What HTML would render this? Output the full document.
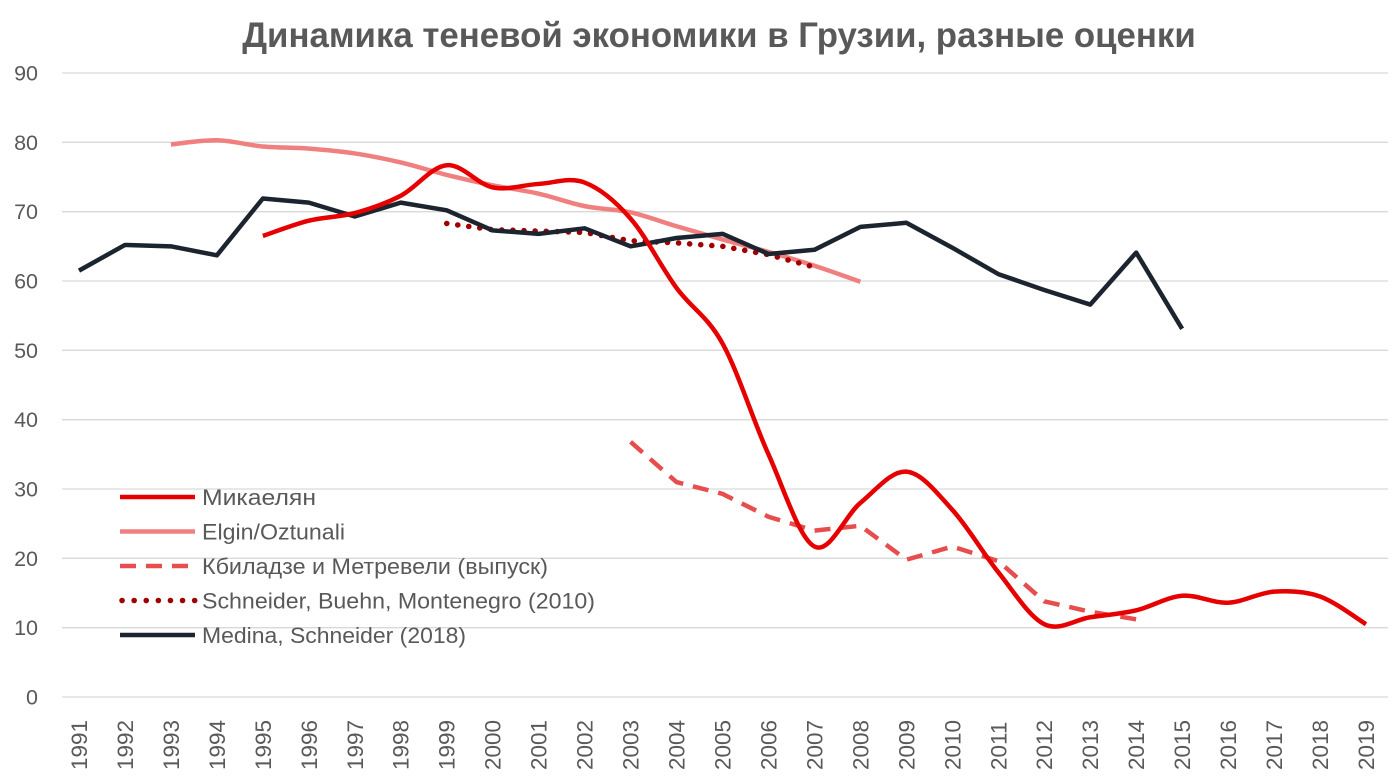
<!DOCTYPE html>
<html><head><meta charset="utf-8"><style>
html,body{margin:0;padding:0;background:#fff;}
svg{display:block;font-family:"Liberation Sans","DejaVu Sans",sans-serif;}
</style></head><body>
<svg id="s" width="1392" height="784" xmlns="http://www.w3.org/2000/svg"></svg>
<script>
const s=document.getElementById('s');
const X=y=>79+(y-1991)*45.964, Y=v=>697-6.9333*v;
let h='';
h+='<text x="719" y="47" text-anchor="middle" font-size="34.8" font-weight="bold" fill="#595959">Динамика теневой экономики в Грузии, разные оценки</text>';
for(let v=0;v<=90;v+=10){h+=`<line x1="62" x2="1388" y1="${Y(v)}" y2="${Y(v)}" stroke="#d9d9d9" stroke-width="1.3"/>`;
h+=`<text x="38" y="${Y(v)+7.5}" text-anchor="end" font-size="21.5" fill="#595959">${v}</text>`;}
for(let y=1991;y<=2019;y++){h+=`<text transform="translate(${X(y)+8},${770}) rotate(-90)" font-size="22.5" fill="#595959">${y}</text>`;}
function pts(start,arr){return arr.map((v,i)=>[X(start+i),Y(v)]);}
function poly(p){return 'M'+p.map(a=>a.join(',')).join(' L');}
function smooth(p){let d='M'+p[0].join(',');for(let i=0;i<p.length-1;i++){const p0=p[i-1]||p[i],p1=p[i],p2=p[i+1],p3=p[i+2]||p2;
const c1=[p1[0]+(p2[0]-p0[0])/6,p1[1]+(p2[1]-p0[1])/6],c2=[p2[0]-(p3[0]-p1[0])/6,p2[1]-(p3[1]-p1[1])/6];
d+=` C${c1.join(',')} ${c2.join(',')} ${p2.join(',')}`;}return d;}
const elgin=pts(1993,[79.7,80.3,79.4,79.1,78.4,77.1,75.3,73.8,72.6,70.8,69.9,67.9,66,64.2,62.2,59.9]);
const kb=pts(2003,[36.8,31,29.3,26,24,24.7,19.8,21.7,19.6,13.8,12.3,11.2]);
const sch=pts(1999,[68.3,67.4,67.2,67,65.8,65.5,65,63.8,62]);
const med=pts(1991,[61.5,65.2,65,63.7,71.9,71.3,69.3,71.3,70.2,67.3,66.8,67.6,65,66.2,66.8,63.9,64.5,67.8,68.4,64.8,61,58.7,56.6,64.1,53.1]);
const mik=pts(1995,[66.5,68.7,69.8,72.3,76.7,73.5,74,74.2,69,59,51,35,21.7,28,32.5,27,18,10.5,11.5,12.5,14.6,13.6,15.2,14.5,10.5]);
h+=`<path d="${smooth(elgin)}" fill="none" stroke="#f08080" stroke-width="4.5"/>`;
h+=`<path d="${poly(kb)}" fill="none" stroke="#e84d4d" stroke-width="4.5" stroke-dasharray="16,10"/>`;
h+=`<path d="${poly(sch)}" fill="none" stroke="#a00000" stroke-width="5.5" stroke-dasharray="0.1,11" stroke-linecap="round"/>`;
h+=`<path d="${poly(med)}" fill="none" stroke="#1c2430" stroke-width="4.5" stroke-linejoin="round"/>`;
h+=`<path d="${smooth(mik)}" fill="none" stroke="#e60000" stroke-width="4.5"/>`;
const leg=[['Микаелян','#e60000','',114],['Elgin/Oztunali','#f08080','',143],['Кбиладзе и Метревели (выпуск)','#e84d4d','16,10',346],['Schneider, Buehn, Montenegro (2010)','#a00000','dot',393],['Medina, Schneider (2018)','#1c2430','',264]];
leg.forEach((l,i)=>{const y=497+i*34.5;
if(l[2]=='dot')h+=`<line x1="122" x2="195" y1="${y}" y2="${y}" stroke="${l[1]}" stroke-width="5.5" stroke-dasharray="0.1,12" stroke-linecap="round"/>`;
else h+=`<line x1="120" x2="195" y1="${y}" y2="${y}" stroke="${l[1]}" stroke-width="4.5" ${l[2]?`stroke-dasharray="${l[2]}"`:''}/>`;
h+=`<text x="202" y="${y+8}" font-size="22" fill="#595959" textLength="${l[3]}" lengthAdjust="spacingAndGlyphs">${l[0]}</text>`;});
s.innerHTML=h;
</script>
</body></html>
